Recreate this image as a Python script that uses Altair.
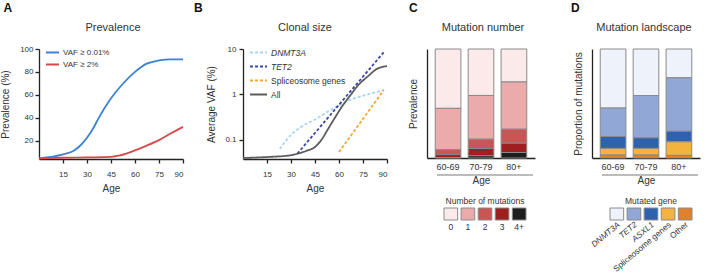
import altair as alt
import pandas as pd

FONT = "Liberation Sans"
TXT = "#333333"
AXC = "#222222"

# ---------------- Panel A data ----------------
a_series = ["VAF ≥ 0.01%", "VAF ≥ 2%"]
a_colors = ["#3B82D0", "#D24B4B"]
a_age_blue = [0, 15, 22, 26, 30, 34, 37, 45, 52, 60, 67, 75, 82, 90]
a_val_blue = [4.6, 8, 11.5, 16, 22.5, 31, 39, 57, 69, 80, 87, 90, 91, 91]
a_age_red = [0, 15, 30, 45, 50, 55, 60, 67, 75, 82, 90]
a_val_red = [4.5, 5.1, 5.4, 5.8, 7, 9, 11.5, 15.5, 20.5, 26, 32]

# ---------------- Panel B data ----------------
b_series = ["DNMT3A", "TET2", "Spliceosome genes", "All"]
b_colors = ["#A9D4F2", "#3A47A3", "#F5A733", "#5C5C5C"]
b_age_dnmt = [23, 30, 36, 45, 55, 67.5, 78, 88]
b_val_dnmt = [0.063, 0.13, 0.19, 0.28, 0.46, 0.77, 1.0, 1.25]
b_age_tet2 = [34, 88]
b_val_tet2 = [0.05, 8.5]
b_age_spl = [60, 88]
b_val_spl = [0.054, 1.25]
b_age_all = [0, 15, 30, 36, 40, 45, 49, 53, 57, 62, 67.5, 72, 78, 84, 90]
b_val_all = [0.04, 0.042, 0.046, 0.052, 0.058, 0.07, 0.1, 0.17, 0.29, 0.55, 1.0, 1.6, 2.5, 3.7, 4.2]

# ---------------- Panel C data ----------------
age_groups = ["60-69", "70-79", "80+"]
c_cats = ["0", "1", "2", "3", "4+"]
c_colors = ["#FCEAEA", "#EBABAB", "#C95555", "#9E1F1F", "#1E1E1E"]
c_n0 = [54.5, 42.5, 30.0]
c_n1 = [38.0, 40.0, 43.0]
c_n2 = [4.5, 8.5, 12.7]
c_n3 = [2.7, 6.7, 8.5]
c_n4 = [0.4, 2.0, 5.0]

# ---------------- Panel D data ----------------
d_cats = ["DNMT3A", "TET2", "ASXL1", "Spliceosome genes", "Other"]
d_italic = [True, True, True, False, False]
d_colors = ["#EEF3FB", "#91A7D5", "#2F62AE", "#F3B33E", "#E2812B"]
d_dnmt = [54.2, 42.7, 26.4]
d_tet2 = [26.1, 38.8, 49.1]
d_asxl1 = [10.9, 9.7, 9.7]
d_spl = [6.1, 6.1, 12.4]
d_other = [2.7, 2.7, 2.4]

letters = ["A", "B", "C", "D"]
titles = ["Prevalence", "Clonal size", "Mutation number", "Mutation landscape"]

# ---------------- tables ----------------
dfA = pd.DataFrame({
    "age": a_age_blue + a_age_red,
    "val": a_val_blue + a_val_red,
    "sa": [a_series[0]] * len(a_age_blue) + [a_series[1]] * len(a_age_red),
})
dfB = pd.DataFrame({
    "age": b_age_dnmt + b_age_tet2 + b_age_spl + b_age_all,
    "val": b_val_dnmt + b_val_tet2 + b_val_spl + b_val_all,
    "sb": [b_series[0]] * len(b_age_dnmt) + [b_series[1]] * len(b_age_tet2)
          + [b_series[2]] * len(b_age_spl) + [b_series[3]] * len(b_age_all),
})
c_vals = [c_n0, c_n1, c_n2, c_n3, c_n4]
dfC = pd.DataFrame([
    {"age": g, "nc": c, "value": c_vals[j][i], "rank": len(c_cats) - 1 - j}
    for j, c in enumerate(c_cats) for i, g in enumerate(age_groups)
])
d_vals = [d_dnmt, d_tet2, d_asxl1, d_spl, d_other]
dfD = pd.DataFrame([
    {"age": g, "nd": c, "value": d_vals[j][i], "rank": len(d_cats) - 1 - j}
    for j, c in enumerate(d_cats) for i, g in enumerate(age_groups)
])

H_AB = 110
H_CD = 109
W_AB = 144
W_CD = 108


def letter(ch, dx):
    return alt.Chart(pd.DataFrame({"t": [ch]})).mark_text(
        fontSize=12, fontWeight="bold", align="left", baseline="top", color="#111111"
    ).encode(x=alt.value(dx), y=alt.value(-46), text="t:N")


def ptitle(t, cx):
    return alt.Chart(pd.DataFrame({"t": [t]})).mark_text(
        fontSize=11, align="center", baseline="middle", color=TXT
    ).encode(x=alt.value(cx), y=alt.value(-21), text="t:N")


age_axis = alt.Axis(values=[15, 30, 45, 60, 75, 90], title="Age", tickSize=4,
                    labelPadding=7, titlePadding=5)
age_scale = alt.Scale(domain=[0, 90], nice=False, zero=False)

# ---------------- Panel A ----------------
linesA = alt.Chart(dfA).mark_line(strokeWidth=1.8, interpolate="monotone").encode(
    x=alt.X("age:Q", scale=age_scale, axis=age_axis),
    y=alt.Y("val:Q", scale=alt.Scale(domain=[4, 100], nice=False, zero=False),
            axis=alt.Axis(values=[20, 40, 60, 80, 100], title="Prevalence (%)", tickSize=4,
                          labelPadding=2, titlePadding=9)),
    color=alt.Color("sa:N", scale=alt.Scale(domain=a_series, range=a_colors),
                    legend=alt.Legend(title=None, orient="none", legendX=6, legendY=-4,
                                      symbolType="stroke", symbolSize=169, symbolStrokeWidth=2,
                                      labelFontSize=8, labelOffset=3, rowPadding=-5)),
)
panelA = alt.layer(linesA, letter(letters[0], -35.5), ptitle(titles[0], 74)).properties(
    width=W_AB, height=H_AB)

# ---------------- Panel B ----------------
legB = alt.Legend(title=None, orient="none", legendX=6, legendY=-6,
                  symbolType="stroke", symbolSize=289, symbolStrokeWidth=2,
                  labelFontSize=8.5, labelOffset=3, rowPadding=-8,
                  labelFontStyle=alt.ExprRef(
                      "indexof(['DNMT3A','TET2'], datum.label) >= 0 ? 'italic' : 'normal'"))
linesB = alt.Chart(dfB).mark_line(strokeWidth=1.8, interpolate="monotone").encode(
    x=alt.X("age:Q", scale=age_scale, axis=age_axis),
    y=alt.Y("val:Q", scale=alt.Scale(type="log", domain=[0.038, 10], nice=False),
            axis=alt.Axis(values=[0.1, 1, 10], format="~g", title="Average VAF (%)", tickSize=4,
                          labelPadding=3, titlePadding=8)),
    color=alt.Color("sb:N", scale=alt.Scale(domain=b_series, range=b_colors), legend=legB),
    strokeDash=alt.StrokeDash("sb:N", scale=alt.Scale(domain=b_series,
                                                      range=[[3, 2], [3, 2], [3, 2], [1, 0]]),
                              legend=legB),
)
panelB = alt.layer(linesB, letter(letters[1], -49), ptitle(titles[1], 62)).properties(
    width=W_AB, height=H_AB)


# ---------------- stacked bar panels ----------------
def bar_panel(df, fld, cats, colors, ytitle, leg_title, leg_range, let, letx, title, tcx, rotated):
    cscale = alt.Scale(domain=cats, range=colors)
    bars = alt.Chart(df).mark_bar(stroke="#8a8a8a", strokeWidth=1).encode(
        x=alt.X("age:N", sort=age_groups,
                scale=alt.Scale(type="band", paddingInner=0.22, paddingOuter=0.25),
                axis=alt.Axis(title="Age", labelAngle=0, ticks=False, labelPadding=4,
                              titlePadding=4, labelFontSize=9)),
        y=alt.Y("value:Q", stack="normalize",
                axis=alt.Axis(title=ytitle, labels=False, ticks=False, titlePadding=9)),
        color=alt.Color(f"{fld}:N", scale=cscale, legend=None),
        order=alt.Order("rank:Q", sort="ascending"),
    )
    legx = alt.X(f"{fld}:N", sort=cats,
                 scale=alt.Scale(type="band", domain=cats, range=leg_range,
                                 paddingInner=0.2, paddingOuter=0), axis=None)
    src = pd.DataFrame({fld: cats, "it": d_italic if rotated else [False] * len(cats)})
    rects = alt.Chart(src).mark_rect(stroke="#8a8a8a", strokeWidth=1).encode(
        x=legx, y=alt.value(159), y2=alt.value(171),
        color=alt.Color(f"{fld}:N", scale=cscale, legend=None))
    layers = [bars, rects]
    if rotated:
        for flag, style in [(True, "italic"), (False, "normal")]:
            layers.append(alt.Chart(src).transform_filter(
                alt.datum.it == flag).mark_text(
                fontSize=8.3, fontStyle=style, angle=320, align="right", baseline="middle",
                color=TXT, dx=3).encode(x=legx, y=alt.value(177), text=f"{fld}:N"))
    else:
        layers.append(alt.Chart(src).mark_text(fontSize=8.5, baseline="middle", color=TXT).encode(
            x=legx, y=alt.value(178), text=f"{fld}:N"))
    one = pd.DataFrame({"t": [leg_title]})
    layers.append(alt.Chart(one).mark_text(fontSize=8.5, baseline="middle", color=TXT).encode(
        x=alt.value((leg_range[0] + leg_range[1]) / 2), y=alt.value(152), text="t:N"))
    layers.append(alt.Chart(one).mark_rule(color="#7a7a7a", strokeWidth=1.2).encode(
        x=alt.value(10), x2=alt.value(106), y=alt.value(126)))
    layers.append(letter(let, letx))
    layers.append(ptitle(title, tcx))
    return alt.layer(*layers).resolve_scale(x="independent").properties(
        width=W_CD, height=H_CD)


panelC = bar_panel(dfC, "nc", c_cats, c_colors, "Prevalence", "Number of mutations", [17, 99],
                   letters[2], -18, titles[2], 56, False)
panelD = bar_panel(dfD, "nd", d_cats, d_colors, "Proportion of mutations", "Mutated gene", [18, 100],
                   letters[3], -21, titles[3], 52, True)


def spacer(w):
    return alt.Chart(pd.DataFrame({"s": [0]})).mark_point(opacity=0).encode(
        x=alt.value(0), y=alt.value(0)).properties(width=w, height=H_CD)


chart = alt.hconcat(panelA, spacer(60), panelB, spacer(40), panelC, spacer(57), panelD,
                    spacing=0, bounds="flush").resolve_scale(
    color="independent", strokeDash="independent"
).configure(
    font=FONT, padding={"left": 0, "top": 2, "right": 2, "bottom": 2}
).configure_view(stroke=None).configure_axis(
    domainColor=AXC, domainWidth=1.3, tickColor=AXC, tickWidth=1.3, grid=False,
    labelFont=FONT, labelFontSize=8, labelColor=TXT,
    titleFont=FONT, titleFontSize=10, titleFontWeight="normal", titleColor=TXT,
).configure_legend(labelFont=FONT, labelColor=TXT)

chart.save("out.html", embed_options={"renderer": "svg", "actions": False})
